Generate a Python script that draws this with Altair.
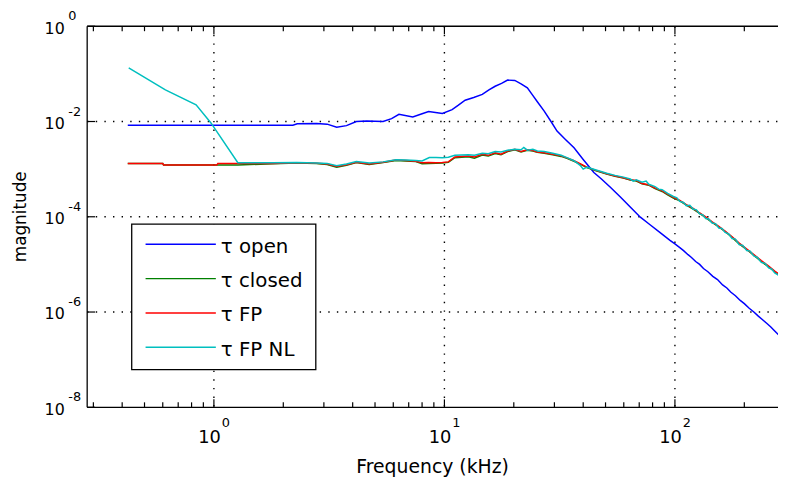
import altair as alt
import pandas as pd

# ---------------- data ----------------
series_names = ["τ open", "τ closed", "τ FP", "τ FP NL"]
series_colors = ["#0000FF", "#008000", "#FF0000", "#00BFBF"]

open_f = [0.423, 1.0, 2.2, 2.3, 2.79, 3.1, 3.41, 3.76, 4.15, 4.6,
          5.42, 5.9, 6.35, 7.29, 8.0, 8.54, 9.8, 10.8, 11.5, 12.3,
          13.4, 14.6, 15.6, 16.6, 17.7, 18.8, 20.2, 21.5, 22.9, 24.0,
          25.3, 27.1, 29.0, 30.8, 33.5, 36.5, 40.0, 44.5, 48.0, 52.6,
          58.0, 64.0, 70.8, 78.0, 86.0, 95.2, 100, 105, 109, 114,
          118, 123, 128, 133, 139, 146, 153, 161, 168, 175,
          183, 192, 200, 210, 220, 230, 240, 250, 260, 271,
          280, 290]
open_m = [8.36e-3, 8.36e-3, 8.36e-3, 9.0e-3, 9.1e-3, 8.8e-3, 7.6e-3, 8.2e-3, 1.0e-2, 1.02e-2,
          1.0e-2, 1.15e-2, 1.42e-2, 1.25e-2, 1.45e-2, 1.62e-2, 1.48e-2, 1.78e-2, 2.2e-2, 2.8e-2,
          3.2e-2, 3.7e-2, 4.6e-2, 5.5e-2, 6.3e-2, 7.4e-2, 7.3e-2, 6.2e-2, 5.1e-2, 3.7e-2,
          2.6e-2, 1.65e-2, 1.0e-2, 6.3e-3, 4.2e-3, 2.8e-3, 1.6e-3, 8.5e-4, 6.2e-4, 4.1e-4,
          2.6e-4, 1.6e-4, 9.8e-5, 6.8e-5, 4.7e-5, 3.2e-5, 2.7e-5, 2.25e-5, 1.95e-5, 1.6e-5,
          1.4e-5, 1.15e-5, 1.0e-5, 8.2e-6, 7.0e-6, 5.6e-6, 4.8e-6, 3.7e-6, 3.2e-6, 2.6e-6,
          2.2e-6, 1.75e-6, 1.5e-6, 1.2e-6, 1.0e-6, 8.2e-7, 6.9e-7, 5.8e-7, 4.9e-7, 4.0e-7,
          3.4e-7, 2.9e-7]

fp_f = [0.423, 0.60, 0.605, 1.03, 1.04, 1.27, 1.8, 2.29, 2.79, 3.1,
        3.41, 3.76, 4.15, 4.72, 5.42, 6.16, 6.8, 7.51, 8.0, 8.54,
        9.2, 9.8, 10.4, 11.1, 12.7, 13.5, 14.6, 15.5, 16.6, 17.6,
        18.8, 20.2, 21.5, 22.9, 24.2, 25.3, 27.1, 29.5, 32.1, 34.0,
        36.5, 38.8, 41.5, 45.5, 50.6, 55.0, 59.8, 64, 68, 72,
        77, 82, 88, 93, 98, 105, 112, 120, 128, 136,
        145, 155, 165, 177, 190, 205, 220, 237, 255, 271,
        290]
fp_m = [1.31e-3, 1.31e-3, 1.22e-3, 1.22e-3, 1.32e-3, 1.32e-3, 1.32e-3, 1.36e-3, 1.33e-3, 1.28e-3,
        1.14e-3, 1.24e-3, 1.40e-3, 1.28e-3, 1.40e-3, 1.55e-3, 1.52e-3, 1.47e-3, 1.36e-3, 1.38e-3,
        1.36e-3, 1.38e-3, 1.42e-3, 1.80e-3, 1.88e-3, 1.80e-3, 2.05e-3, 1.95e-3, 2.20e-3, 2.05e-3,
        2.40e-3, 2.60e-3, 2.35e-3, 2.55e-3, 2.45e-3, 2.30e-3, 2.20e-3, 2.05e-3, 1.90e-3, 1.72e-3,
        1.50e-3, 1.30e-3, 1.10e-3, 9.4e-4, 8.0e-4, 7.2e-4, 6.6e-4, 6.0e-4, 5.8e-4, 5.0e-4,
        4.7e-4, 4.0e-4, 3.5e-4, 3.0e-4, 2.6e-4, 2.2e-4, 1.8e-4, 1.5e-4, 1.2e-4, 9.9e-5,
        7.8e-5, 6.3e-5, 5.0e-5, 3.8e-5, 2.8e-5, 2.1e-5, 1.6e-5, 1.2e-5, 9.2e-6, 7.2e-6,
        5.8e-6]

closed_f = fp_f
closed_m = [1.31e-3, 1.31e-3, 1.22e-3, 1.22e-3, 1.22e-3, 1.22e-3, 1.30e-3, 1.34e-3, 1.31e-3, 1.25e-3,
            1.10e-3, 1.20e-3, 1.38e-3, 1.25e-3, 1.37e-3, 1.52e-3, 1.48e-3, 1.44e-3, 1.30e-3, 1.32e-3,
            1.33e-3, 1.35e-3, 1.40e-3, 1.74e-3, 1.82e-3, 1.70e-3, 1.98e-3, 1.88e-3, 2.12e-3, 2.00e-3,
            2.35e-3, 2.55e-3, 2.30e-3, 2.50e-3, 2.40e-3, 2.25e-3, 2.15e-3, 2.00e-3, 1.85e-3, 1.68e-3,
            1.46e-3, 1.27e-3, 1.08e-3, 9.2e-4, 7.9e-4, 7.1e-4, 6.5e-4, 5.9e-4, 5.6e-4, 4.9e-4,
            4.6e-4, 3.9e-4, 3.4e-4, 2.9e-4, 2.5e-4, 2.15e-4, 1.75e-4, 1.45e-4, 1.18e-4, 9.6e-5,
            7.6e-5, 6.1e-5, 4.9e-5, 3.7e-5, 2.7e-5, 2.05e-5, 1.55e-5, 1.15e-5, 8.9e-6, 7.0e-6,
            5.6e-6]

fpnl_f = [0.427, 0.616, 0.837, 0.971, 1.27, 1.8, 2.29, 2.79, 3.1, 3.41,
          3.76, 4.15, 4.72, 5.42, 6.16, 6.8, 7.51, 8.0, 8.6, 9.2,
          9.8, 10.4, 11.1, 12.7, 13.5, 14.6, 15.5, 16.6, 17.6, 18.8,
          20.2, 21.5, 22.1, 22.9, 24.2, 25.3, 27.1, 29.5, 32.1, 34.0,
          36.5, 38.8, 40.0, 41.5, 45.5, 50.6, 55.0, 59.8, 64, 66,
          68, 72, 75, 77, 82, 85, 88, 93, 98, 102,
          105, 109, 112, 116, 120, 124, 128, 132, 136, 140,
          145, 150, 155, 160, 165, 171, 177, 183, 190, 197,
          205, 212, 220, 228, 237, 246, 255, 263, 271, 280,
          290]
fpnl_m = [0.134, 0.0461, 0.0225, 9.33e-3, 1.36e-3, 1.36e-3, 1.38e-3, 1.35e-3, 1.32e-3, 1.18e-3,
          1.28e-3, 1.44e-3, 1.34e-3, 1.42e-3, 1.58e-3, 1.56e-3, 1.52e-3, 1.48e-3, 1.75e-3, 1.75e-3,
          1.74e-3, 1.78e-3, 1.95e-3, 2.0e-3, 1.95e-3, 2.15e-3, 2.1e-3, 2.35e-3, 2.3e-3, 2.5e-3,
          2.62e-3, 2.55e-3, 2.85e-3, 2.5e-3, 2.6e-3, 2.4e-3, 2.35e-3, 2.15e-3, 1.95e-3, 1.75e-3,
          1.5e-3, 1.2e-3, 1.0e-3, 1.1e-3, 9.6e-4, 8.2e-4, 7.4e-4, 6.8e-4, 6.2e-4, 5.6e-4,
          6.0e-4, 5.3e-4, 5.6e-4, 4.8e-4, 4.3e-4, 3.8e-4, 3.7e-4, 3.1e-4, 2.7e-4, 2.5e-4,
          2.1e-4, 2.0e-4, 1.7e-4, 1.75e-4, 1.45e-4, 1.4e-4, 1.15e-4, 1.1e-4, 9.2e-5, 9.0e-5,
          7.4e-5, 7.2e-5, 5.8e-5, 5.7e-5, 4.7e-5, 4.4e-5, 3.5e-5, 3.4e-5, 2.6e-5, 2.5e-5,
          1.95e-5, 1.9e-5, 1.5e-5, 1.4e-5, 1.1e-5, 1.05e-5, 8.5e-6, 8.0e-6, 6.6e-6, 6.0e-6,
          5.2e-6]

x_major = [1, 10, 100]
x_exp = ["0", "1", "2"]
x_minor = [0.3, 0.4, 0.5, 0.6, 0.7, 0.8, 0.9,
           2, 3, 4, 5, 6, 7, 8, 9,
           20, 30, 40, 50, 60, 70, 80, 90, 200]
y_major = [1, 1e-2, 1e-4, 1e-6, 1e-8]
y_exp = ["0", "-2", "-4", "-6", "-8"]
x_grid = [1, 10, 100]
y_grid = [1e-2, 1e-4, 1e-6]

x_title = "Frequency (kHz)"
y_title = "magnitude"

# ---------------- layout ----------------
W, H = 698, 385
FONT = "DejaVu Sans"
xs = alt.Scale(type="log", domain=[0.282, 280], nice=False)
ys = alt.Scale(type="log", domain=[1e-8, 1], nice=False)

one = pd.DataFrame({"a": [0]})
layers = []

# grid (dotted)
layers.append(alt.Chart(pd.DataFrame({"v": x_grid})).mark_rule(
    color="black", strokeDash=[1.4, 7.3], strokeWidth=1.4).encode(
    x=alt.X("v:Q", scale=xs, axis=None), y=alt.value(0), y2=alt.value(H)))
layers.append(alt.Chart(pd.DataFrame({"v": y_grid})).mark_rule(
    color="black", strokeDash=[1.4, 7.3], strokeWidth=1.4).encode(
    y=alt.Y("v:Q", scale=ys, axis=None), x=alt.value(0), x2=alt.value(W)))

# data lines (drawn in legend order)
series_data = [(open_f, open_m), (closed_f, closed_m), (fp_f, fp_m), (fpnl_f, fpnl_m)]
for (fx, my), col in zip(series_data, series_colors):
    df = pd.DataFrame({"f": fx, "m": my})
    layers.append(alt.Chart(df).mark_line(color=col, strokeWidth=1.5, clip=True).encode(
        x=alt.X("f:Q", scale=xs, axis=None),
        y=alt.Y("m:Q", scale=ys, axis=None)))

# box borders (left, top, bottom; right edge is cut off)
layers.append(alt.Chart(one).mark_rule(color="black", strokeWidth=1.3).encode(
    x=alt.value(0), y=alt.value(0), y2=alt.value(H)))
layers.append(alt.Chart(one).mark_rule(color="black", strokeWidth=1.3).encode(
    x=alt.value(0), x2=alt.value(W), y=alt.value(0)))
layers.append(alt.Chart(one).mark_rule(color="black", strokeWidth=1.3).encode(
    x=alt.value(0), x2=alt.value(W), y=alt.value(H)))

# inward ticks
for vals, ln in ((x_major, 8), (x_minor, 5)):
    d = pd.DataFrame({"v": vals})
    layers.append(alt.Chart(d).mark_rule(color="black", strokeWidth=1.2).encode(
        x=alt.X("v:Q", scale=xs, axis=None), y=alt.value(H - ln), y2=alt.value(H)))
    layers.append(alt.Chart(d).mark_rule(color="black", strokeWidth=1.2).encode(
        x=alt.X("v:Q", scale=xs, axis=None), y=alt.value(0), y2=alt.value(ln)))
layers.append(alt.Chart(pd.DataFrame({"v": y_major})).mark_rule(color="black", strokeWidth=1.2).encode(
    y=alt.Y("v:Q", scale=ys, axis=None), x=alt.value(0), x2=alt.value(8)))

# tick labels: base "10" and exponent
xl = pd.DataFrame({"v": x_major, "e": x_exp})
layers.append(alt.Chart(xl).mark_text(text="10", font=FONT, fontSize=18, align="right",
                                      baseline="alphabetic", dx=7, color="black").encode(
    x=alt.X("v:Q", scale=xs, axis=None), y=alt.value(H + 36)))
layers.append(alt.Chart(xl).mark_text(font=FONT, fontSize=13, align="left",
                                      baseline="alphabetic", dx=8, color="black").encode(
    x=alt.X("v:Q", scale=xs, axis=None), y=alt.value(H + 20), text="e:N"))
yl = pd.DataFrame({"v": y_major, "e": y_exp})
layers.append(alt.Chart(yl).mark_text(text="10", font=FONT, fontSize=16, align="left",
                                      baseline="alphabetic", dy=7.5, color="black").encode(
    y=alt.Y("v:Q", scale=ys, axis=None), x=alt.value(-43)))
layers.append(alt.Chart(yl).mark_text(font=FONT, fontSize=13, align="left",
                                      baseline="alphabetic", dy=-6, color="black").encode(
    y=alt.Y("v:Q", scale=ys, axis=None), x=alt.value(-19), text="e:N"))

# axis titles
layers.append(alt.Chart(one).mark_text(text=x_title, font=FONT, fontSize=19, align="center",
                                       baseline="alphabetic", color="black").encode(
    x=alt.value(W / 2), y=alt.value(H + 66)))
layers.append(alt.Chart(one).mark_text(text=y_title, font=FONT, fontSize=17, align="center",
                                       baseline="alphabetic", angle=270, color="black").encode(
    x=alt.value(-62), y=alt.value(H / 2)))

# legend box
LX0, LX1, LY0, LY1 = 45, 231, 200, 347
layers.append(alt.Chart(one).mark_rect(fill="white", stroke="black", strokeWidth=1.3).encode(
    x=alt.value(LX0), x2=alt.value(LX1), y=alt.value(LY0), y2=alt.value(LY1)))
for k, (name, col) in enumerate(zip(series_names, series_colors)):
    ly = 220.3 + 34.7 * k
    layers.append(alt.Chart(one).mark_rule(color=col, strokeWidth=1.5).encode(
        x=alt.value(59), x2=alt.value(130), y=alt.value(ly)))
    layers.append(alt.Chart(one).mark_text(text=name, font=FONT, fontSize=20, align="left",
                                           baseline="alphabetic", color="black").encode(
        x=alt.value(135), y=alt.value(ly + 8.5)))

chart = alt.layer(*layers).properties(
    width=W, height=H,
    autosize=alt.AutoSizeParams(type="none"),
    padding={"left": 80, "top": 16, "right": 0, "bottom": 68},
    background="white",
).configure_view(stroke=None)

chart.save("out.html", embed_options={"renderer": "svg", "actions": False})
